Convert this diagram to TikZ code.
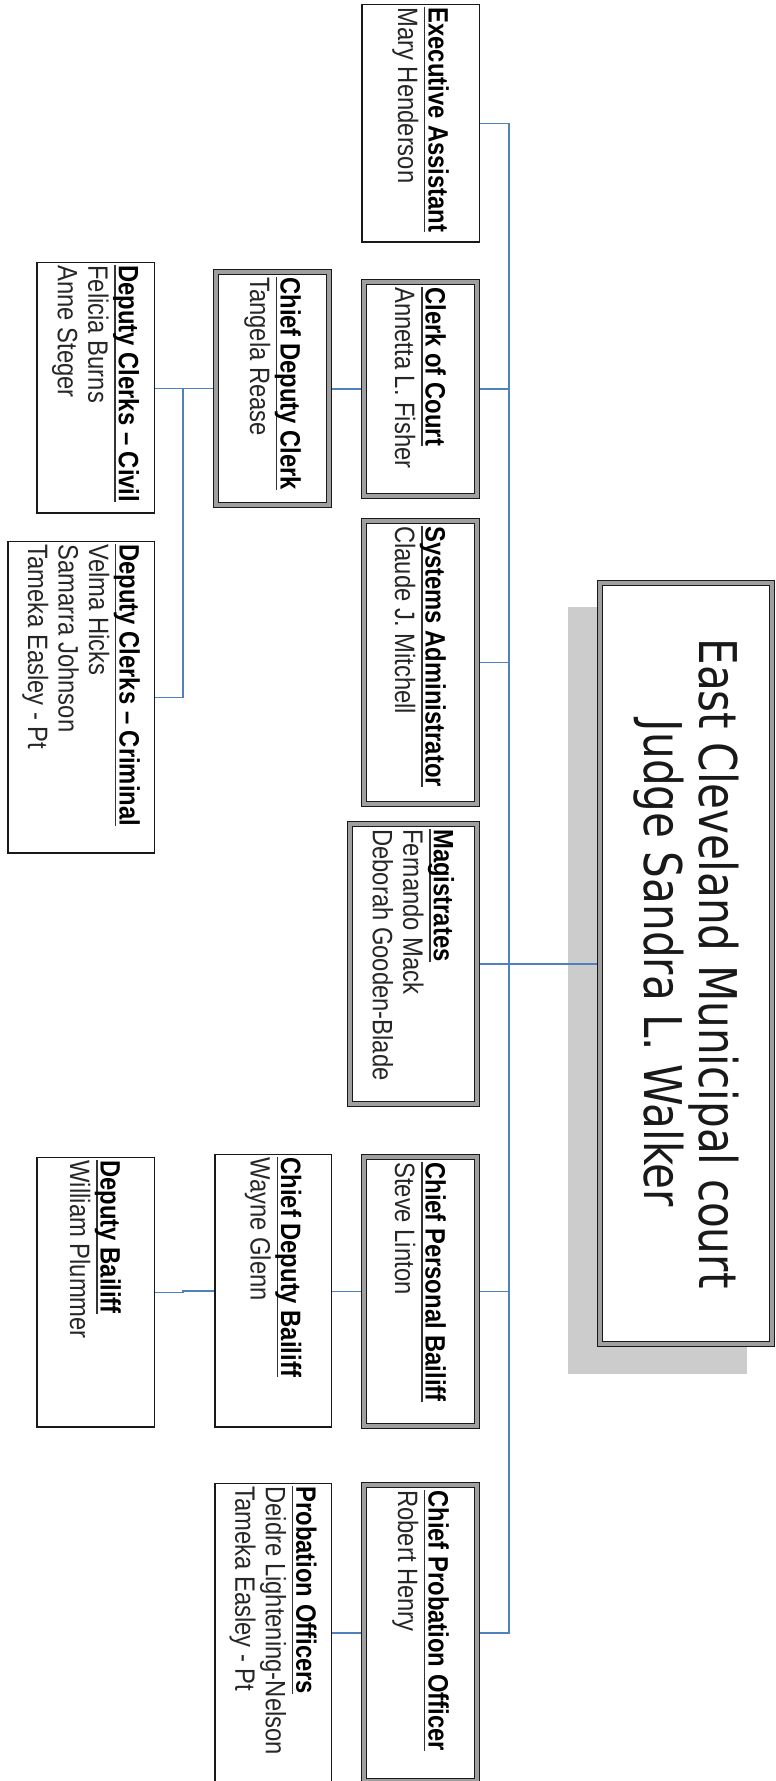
\documentclass[tikz,border=0pt]{standalone}
\usepackage{fontspec}
\setmainfont[FakeStretch=0.85]{Liberation Sans}
\newfontfamily\judgefont[FakeStretch=0.81]{DejaVu Sans}
\usetikzlibrary{backgrounds}
\newsavebox\ttlbox
\newcommand\ttl[1]{\sbox\ttlbox{\bfseries\color{black} #1}\rlap{\color{black!80}\rule[-4.5pt]{\wd\ttlbox}{1.3pt}}\usebox\ttlbox}
\definecolor{connblue}{RGB}{79,129,189}
\tikzset{
 conn/.style={draw=connblue, line width=1.3pt},
 sbox/.style={draw=black!90, line width=1.5pt, fill=white, outer sep=0pt, inner sep=0pt},
 dbox/.style={draw=black!90, line width=1.1pt, double=gray!75, double distance=4pt, fill=white, outer sep=0pt, inner sep=0pt},
 txt/.style={rotate=-90, anchor=west, inner sep=0pt, align=left, text=black!85, font=\fontsize{28}{30.5}\selectfont},
 shadowbox/.style={fill=gray!40, draw=none},
}
\begin{document}
\begin{tikzpicture}[x=1pt,y=1pt]
\useasboundingbox (0,0) rectangle (776,1781);
% boxes
\node[sbox, minimum width=117.5pt, minimum height=237.5pt] (ea)  at (420.5,1657.5) {};
\node[dbox, minimum width=112.8pt, minimum height=213.8pt] (coc) at (420.5,1392) {};
\node[dbox, minimum width=112.8pt, minimum height=282.8pt] (sys) at (420.5,1118.5) {};
\node[dbox, minimum width=126.8pt, minimum height=279.8pt] (mag) at (413.5,817) {};
\node[dbox, minimum width=112.8pt, minimum height=268.8pt] (cpb) at (420.5,489.5) {};
\node[dbox, minimum width=112.8pt, minimum height=295.8pt] (cpo) at (420.5,148) {};
\node[dbox, minimum width=112.8pt, minimum height=232.8pt] (cdc) at (272.5,1392.5) {};
\node[sbox, minimum width=117.5pt, minimum height=250.5pt] (civ) at (95.5,1393) {};
\node[sbox, minimum width=146.5pt, minimum height=311.5pt] (crim) at (81,1083.5) {};
\node[sbox, minimum width=116.5pt, minimum height=272.5pt] (cdb) at (273,490) {};
\node[sbox, minimum width=117.5pt, minimum height=269.5pt] (db)  at (95.5,488.5) {};
\node[sbox, minimum width=116.5pt, minimum height=298.5pt] (po)  at (273,148) {};
\node[dbox, minimum width=171.8pt, minimum height=760.8pt] (judge) at (686,817.5) {};
% texts
\node[txt] (ea-t)  at ([yshift=-2.5pt]ea.north)  {\ttl{Executive Assistant}\\Mary Henderson};
\node[txt] (coc-t) at ([yshift=-5pt]coc.north)   {\ttl{Clerk of Court}\\Annetta L. Fisher};
\node[txt] (sys-t) at ([yshift=-5pt]sys.north)   {\ttl{Systems Administrator}\\Claude J. Mitchell};
\node[txt] (mag-t) at ([yshift=-5pt]mag.north)   {\ttl{Magistrates}\\Fernando Mack\\Deborah Gooden-Blade};
\node[txt] (cpb-t) at ([yshift=-5pt]cpb.north)   {\ttl{Chief Personal Bailiff}\\Steve Linton};
\node[txt] (cpo-t) at ([yshift=-5pt]cpo.north)   {\ttl{Chief Probation Officer}\\Robert Henry};
\node[txt] (cdc-t) at ([yshift=-5pt]cdc.north)   {\ttl{Chief Deputy Clerk}\\Tangela Rease};
\node[txt] (civ-t) at ([yshift=-2.5pt]civ.north) {\ttl{Deputy Clerks – Civil}\\Felicia Burns\\Anne Steger};
\node[txt] (crim-t) at ([yshift=-2.5pt]crim.north) {\ttl{Deputy Clerks – Criminal}\\Velma Hicks\\Samarra Johnson\\Tameka Easley - Pt};
\node[txt] (cdb-t) at ([yshift=-2.5pt]cdb.north) {\ttl{Chief Deputy Bailiff}\\Wayne Glenn};
\node[txt] (db-t)  at ([yshift=-2.5pt]db.north)  {\ttl{Deputy Bailiff}\\William Plummer};
\node[txt] (po-t)  at ([yshift=-2.5pt]po.north)  {\ttl{Probation Officers}\\Deidre Lightening-Nelson\\Tameka Easley - Pt};
\node[rotate=-90, align=center, inner sep=0pt, text=black!90, font=\judgefont\fontsize{52}{55}\selectfont] (judge-t) at (judge.center) {East Cleveland Municipal court\\Judge Sandra L. Walker};
% coordinates for connector spines
\coordinate (tk) at (509,0);
\coordinate (cb) at (183,0);
\begin{pgfonlayer}{background}
\fill[shadowbox] (568,407) rectangle (747,1174);
\draw[conn] (ea.east) -- (ea.east -| tk) -- (cpo.east -| tk) -- (cpo.east);
\draw[conn] (coc.east) -- (coc.east -| tk);
\draw[conn] (sys.east) -- (sys.east -| tk);
\draw[conn] (cpb.east) -- (cpb.east -| tk);
\draw[conn] (mag.east) -- (mag.east -| judge.west);
\draw[conn] (coc.west) -- (coc.west -| cdc.east);
\draw[conn] (cdc.west) -- (cdc.west -| civ.east);
\draw[conn] (cdc.west -| cb) -- (crim.east -| cb) -- (crim.east);
\draw[conn] (cpb.west) -- (cpb.west -| cdb.east);
\draw[conn] (cdb.west) -- (cdb.west -| cb) -- (db.east -| cb) -- (db.east);
\draw[conn] (cpo.west) -- (cpo.west -| po.east);
\end{pgfonlayer}
\end{tikzpicture}
\end{document}
